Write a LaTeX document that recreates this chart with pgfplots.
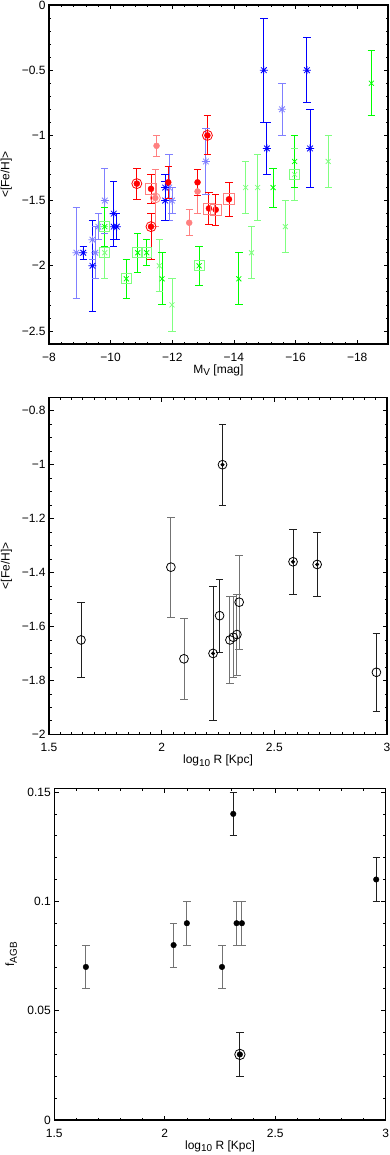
\documentclass[border=0pt]{standalone}
\usepackage{pgfplots}
\pgfplotsset{compat=1.18}
\usepackage{pgfplotstable}
\usepackage{fontspec}
\setmainfont{Liberation Sans}

\definecolor{lblue}{rgb}{0.5,0.5,1}
\definecolor{lred}{rgb}{1,0.5,0.5}
\definecolor{lgreen}{rgb}{0.5,1,0.5}
\definecolor{dgray}{rgb}{0.12,0.12,0.12}
\definecolor{mgray}{rgb}{0.45,0.45,0.45}

\pgfdeclareplotmark{star8}{%
  \pgfpathmoveto{\pgfqpoint{-\pgfplotmarksize}{0pt}}\pgfpathlineto{\pgfqpoint{\pgfplotmarksize}{0pt}}%
  \pgfpathmoveto{\pgfqpoint{0pt}{-\pgfplotmarksize}}\pgfpathlineto{\pgfqpoint{0pt}{\pgfplotmarksize}}%
  \pgfpathmoveto{\pgfqpoint{-.7071\pgfplotmarksize}{-.7071\pgfplotmarksize}}\pgfpathlineto{\pgfqpoint{.7071\pgfplotmarksize}{.7071\pgfplotmarksize}}%
  \pgfpathmoveto{\pgfqpoint{-.7071\pgfplotmarksize}{.7071\pgfplotmarksize}}\pgfpathlineto{\pgfqpoint{.7071\pgfplotmarksize}{-.7071\pgfplotmarksize}}%
  \pgfusepathqstroke}
\pgfdeclareplotmark{hcap}{%
  \pgfpathmoveto{\pgfqpoint{-\pgfplotmarksize}{0pt}}\pgfpathlineto{\pgfqpoint{\pgfplotmarksize}{0pt}}%
  \pgfusepathqstroke}

\pgfplotsset{
  myax/.style={
    scale only axis,
    axis line style={line width=1.1pt},
    tick style={line width=0.7pt, black},
    major tick length=4.5pt, minor tick length=2.5pt,
    tick align=inside,
    font=\fontsize{12}{14}\selectfont,
    tick label style={font=\fontsize{12}{14}\selectfont},
    label style={font=\fontsize{12}{14}\selectfont},
    xticklabel style={anchor=base, yshift=-17pt},
    every axis y label/.style={at={(axis description cs:-0.126,0.5)}, rotate=90, anchor=center},
    every axis x label/.style={at={(axis description cs:0.5,0)}, anchor=base, yshift=-29pt},
  },
  eb/.style={only marks,
    error bars/y dir=both, error bars/y explicit,
    error bars/error mark=none,
    error bars/error bar style={line width=0.9pt, color=#1}},
}

% caps of the error bars: symmetric (column e) or asymmetric (columns ep, em)
\newcommand{\capsE}[2]{%
  \addplot[color=#1, only marks, mark=hcap, mark size=3.7pt, mark options={line width=0.9pt}] table[x=x, y expr=\thisrow{y}+\thisrow{e}]{#2};
  \addplot[color=#1, only marks, mark=hcap, mark size=3.7pt, mark options={line width=0.9pt}] table[x=x, y expr=\thisrow{y}-\thisrow{e}]{#2};}
\newcommand{\capsPM}[2]{%
  \addplot[color=#1, only marks, mark=hcap, mark size=3.7pt, mark options={line width=0.9pt}] table[x=x, y expr=\thisrow{y}+\thisrow{ep}]{#2};
  \addplot[color=#1, only marks, mark=hcap, mark size=3.7pt, mark options={line width=0.9pt}] table[x=x, y expr=\thisrow{y}-\thisrow{em}]{#2};}

% ---------- top panel data ----------
\pgfplotstableread{
x y e
-8.89 -1.90 0.35
-9.41 -1.80 0.15
-9.50 -1.90 0.20
-9.60 -1.70 0.10
-9.81 -1.50 0.25
-11.90 -1.40 0.25
-11.99 -1.50 0.10
-13.09 -1.20 0.25
-15.56 -0.80 0.20
}\blueL
\pgfplotstableread{
x y e
-9.11 -1.90 0.05
-9.41 -2.00 0.35
-10.10 -1.60 0.25
-10.10 -1.70 0.10
-10.20 -1.70 0.10
-11.77 -1.40 0.10
-11.77 -1.50 0.15
-15.07 -1.10 0.20
-14.97 -0.50 0.40
-16.37 -0.50 0.25
-16.47 -1.10 0.30
}\blueD
\pgfplotstableread{
x y e
-17.06 -1.20 0.20
-14.77 -1.40 0.25
-14.38 -1.40 0.20
-15.67 -1.70 0.20
-14.57 -1.90 0.20
-11.99 -2.30 0.20
-11.58 -2.00 0.20
}\greenL
\pgfplotstableread{
x y e
-18.46 -0.60 0.25
-15.97 -1.20 0.20
-15.27 -1.40 0.15
-14.16 -2.10 0.20
-11.67 -2.10 0.20
}\greenD
\pgfplotstableread{
x y e
-15.97 -1.30 0.20
-9.81 -1.90 0.20
}\greenSqL
\pgfplotstableread{
x y e
-12.87 -2.00 0.15
-9.81 -1.70 0.15
-10.51 -2.10 0.15
-10.88 -1.90 0.15
-11.17 -1.90 0.10
}\greenSqD
\pgfplotstableread{
x y ep em
-11.49 -1.08 0.08 0.08
-12.82 -1.43 0.17 0.17
-12.55 -1.67 0.10 0.10
}\redL
\pgfplotstableread{
x y ep em
-11.87 -1.36 0.12 0.12
-12.82 -1.36 0.10 0.10
}\redD
\pgfplotstableread{
x y ep em
-11.45 -1.48 0.22 0.22
}\redRingL
\pgfplotstableread{
x y ep em
-10.85 -1.37 0.12 0.12
-11.31 -1.70 0.10 0.25
-13.14 -1.00 0.15 0.15
}\redRingD
\pgfplotstableread{
x y ep em
-11.31 -1.41 0.11 0.11
-13.19 -1.56 0.12 0.12
-13.41 -1.57 0.12 0.12
-13.84 -1.49 0.13 0.13
}\redSq

% ---------- middle panel data ----------
\pgfplotstableread{
x y e
2.041 -1.38 0.185
2.099 -1.72 0.15
2.303 -1.65 0.16
2.318 -1.64 0.15
2.334 -1.63 0.15
2.344 -1.51 0.175
}\midOG
\pgfplotstableread{
x y e
1.642 -1.65 0.14
2.257 -1.56 0.135
2.953 -1.77 0.145
}\midOB
\pgfplotstableread{
x y e
2.228 -1.70 0.25
2.270 -1.00 0.15
2.583 -1.36 0.12
2.690 -1.37 0.12
}\midCD

% ---------- bottom panel data ----------
\pgfplotstableread{
x y e
1.643 0.07 0.01
2.040 0.08 0.01
2.100 0.09 0.01
2.259 0.07 0.01
2.325 0.09 0.01
2.349 0.09 0.01
}\botG
\pgfplotstableread{
x y e
2.310 0.14 0.01
2.957 0.11 0.01
}\botB
\pgfplotstableread{
x y e
2.340 0.03 0.01
}\botR

\begin{document}
\begin{tikzpicture}
\useasboundingbox (0,0) rectangle (390pt,-1155pt);

% ================= TOP =================
\begin{axis}[myax, at={(49pt,-344pt)}, anchor=south west,
  width=339pt, height=339pt,
  x dir=reverse, xmin=-19, xmax=-8, ymin=-2.6, ymax=0,
  xtick={-18,-16,-14,-12,-10,-8}, xticklabels={−18,−16,−14,−12,−10,−8},
  ytick={-2.5,-2,-1.5,-1,-0.5,0}, yticklabels={−2.5,−2,−1.5,−1,−0.5,0},
  minor x tick num=4, minor y tick num=4,
  xlabel={M\raisebox{-0.45ex}{\fontsize{10}{10}\selectfont V} [mag]},
  ylabel={<[Fe/H]>}]
\addplot[color=lblue, mark=star8, mark size=4pt, mark options={line width=0.8pt}, eb=lblue] table[x=x,y=y,y error=e]{\blueL};
\capsE{lblue}{\blueL}
\addplot[color=lgreen, mark=x, mark size=3.5pt, mark options={line width=0.8pt}, eb=lgreen] table[x=x,y=y,y error=e]{\greenL};
\capsE{lgreen}{\greenL}
\addplot[color=lgreen, mark=x, mark size=3.5pt, mark options={line width=0.8pt}, eb=lgreen] table[x=x,y=y,y error=e]{\greenSqL};
\capsE{lgreen}{\greenSqL}
\addplot[color=lgreen, only marks, mark=square, mark size=5pt, mark options={line width=0.8pt}] table[x=x,y=y]{\greenSqL};
\addplot[color=lred, mark=*, mark size=3pt, eb=lred] table[x=x,y=y,y error plus=ep,y error minus=em]{\redL};
\capsPM{lred}{\redL}
\addplot[color=lred, mark=*, mark size=3pt, eb=lred] table[x=x,y=y,y error plus=ep,y error minus=em]{\redRingL};
\capsPM{lred}{\redRingL}
\addplot[color=lred, only marks, mark=o, mark size=5pt, mark options={line width=0.8pt}] table[x=x,y=y]{\redRingL};
\addplot[color=blue, mark=star8, mark size=4pt, mark options={line width=0.8pt}, eb=blue] table[x=x,y=y,y error=e]{\blueD};
\capsE{blue}{\blueD}
\addplot[color=green, mark=x, mark size=3.5pt, mark options={line width=0.8pt}, eb=green] table[x=x,y=y,y error=e]{\greenD};
\capsE{green}{\greenD}
\addplot[color=green, mark=x, mark size=3.5pt, mark options={line width=0.8pt}, eb=green] table[x=x,y=y,y error=e]{\greenSqD};
\capsE{green}{\greenSqD}
\addplot[color=lgreen, only marks, mark=square, mark size=5pt, mark options={line width=0.8pt}] table[x=x,y=y]{\greenSqD};
\addplot[color=red, mark=*, mark size=3pt, eb=red] table[x=x,y=y,y error plus=ep,y error minus=em]{\redD};
\capsPM{red}{\redD}
\addplot[color=red, mark=*, mark size=3pt, eb=red] table[x=x,y=y,y error plus=ep,y error minus=em]{\redRingD};
\capsPM{red}{\redRingD}
\addplot[color=red, only marks, mark=o, mark size=5pt, mark options={line width=0.8pt}] table[x=x,y=y]{\redRingD};
\addplot[color=red, mark=*, mark size=3pt, eb=red] table[x=x,y=y,y error plus=ep,y error minus=em]{\redSq};
\capsPM{red}{\redSq}
\addplot[color=lred, only marks, mark=square, mark size=5.5pt, mark options={line width=0.8pt}] table[x=x,y=y]{\redSq};
\end{axis}

% ================= MIDDLE =================
\begin{axis}[myax, at={(49pt,-734.3pt)}, anchor=south west,
  width=338pt, height=337pt,
  xmin=1.5, xmax=3, ymin=-2, ymax=-0.75,
  xtick={1.5,2,2.5,3}, xticklabels={1.5,2,2.5,3},
  ytick={-2,-1.8,-1.6,-1.4,-1.2,-1,-0.8}, yticklabels={−2,−1.8,−1.6,−1.4,−1.2,−1,−0.8},
  minor x tick num=9, minor y tick num=3,
  xlabel={log\raisebox{-0.45ex}{\fontsize{10}{10}\selectfont 10} R [Kpc]},
  ylabel={<[Fe/H]>}]
\addplot[color=mgray, mark=o, mark size=4.4pt, mark options={draw=black, line width=0.8pt, fill=none}, eb=mgray] table[x=x,y=y,y error=e]{\midOG};
\capsE{mgray}{\midOG}
\addplot[color=dgray, mark=o, mark size=4.4pt, mark options={draw=black, line width=0.8pt, fill=none}, eb=dgray] table[x=x,y=y,y error=e]{\midOB};
\capsE{dgray}{\midOB}
\addplot[color=dgray, mark=o, mark size=4.4pt, mark options={draw=black, line width=0.8pt, fill=none}, eb=dgray] table[x=x,y=y,y error=e]{\midCD};
\capsE{dgray}{\midCD}
\addplot[color=black, only marks, mark=*, mark size=1.8pt] table[x=x,y=y]{\midCD};
\end{axis}

% ================= BOTTOM =================
\begin{axis}[myax, at={(54.3pt,-1120pt)}, anchor=south west,
  width=331.4pt, height=331.7pt,
  xmin=1.5, xmax=3, ymin=0, ymax=0.1517,
  xtick={1.5,2,2.5,3}, xticklabels={1.5,2,2.5,3},
  ytick={0,0.05,0.1,0.15}, yticklabels={0,0.05,0.1,0.15},
  minor x tick num=4, minor y tick num=4,
  every axis y label/.style={at={(axis description cs:-0.13,0.5)}, rotate=90, anchor=center},
  xlabel={log\raisebox{-0.45ex}{\fontsize{10}{10}\selectfont 10} R [Kpc]},
  ylabel={f\raisebox{-0.45ex}{\fontsize{10}{10}\selectfont AGB}}]
\addplot[color=mgray, mark=*, mark size=2.8pt, mark options={draw=black, fill=black}, eb=mgray] table[x=x,y=y,y error=e]{\botG};
\capsE{mgray}{\botG}
\addplot[color=dgray, mark=*, mark size=2.8pt, mark options={draw=black, fill=black}, eb=dgray] table[x=x,y=y,y error=e]{\botB};
\capsE{dgray}{\botB}
\addplot[color=dgray, mark=*, mark size=2.8pt, mark options={draw=black, fill=black}, eb=dgray] table[x=x,y=y,y error=e]{\botR};
\capsE{dgray}{\botR}
\addplot[color=black, only marks, mark=o, mark size=5.2pt, mark options={line width=0.8pt}] table[x=x,y=y]{\botR};
\end{axis}
\end{tikzpicture}
\end{document}
